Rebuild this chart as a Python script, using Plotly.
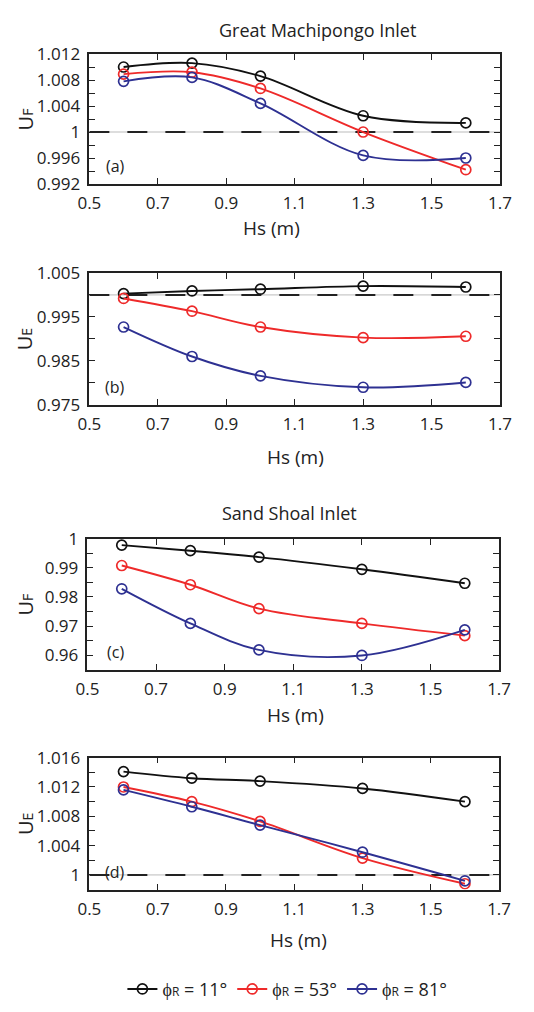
import plotly.graph_objects as go

# ---------------- data ----------------
hs = [0.6, 0.8, 1.0, 1.3, 1.6]
series_names = ["ϕ<span style='font-size:12px'>R</span> = 11°",
                "ϕ<span style='font-size:12px'>R</span> = 53°",
                "ϕ<span style='font-size:12px'>R</span> = 81°"]

# (a) Great Machipongo Inlet, UF
a_11 = [1.0100, 1.0106, 1.0086, 1.0025, 1.0014]
a_53 = [1.0089, 1.0092, 1.0067, 1.0000, 0.9942]
a_81 = [1.0078, 1.0084, 1.0044, 0.9964, 0.9960]
# (b) Great Machipongo Inlet, UE
b_11 = [1.0003, 1.0009, 1.0013, 1.0020, 1.0018]
b_53 = [0.9992, 0.9963, 0.9927, 0.9903, 0.9906]
b_81 = [0.9927, 0.9860, 0.9816, 0.9790, 0.9801]
# (c) Sand Shoal Inlet, UF
c_11 = [0.9978, 0.9959, 0.9937, 0.9895, 0.9847]
c_53 = [0.9908, 0.9842, 0.9760, 0.9709, 0.9667]
c_81 = [0.9828, 0.9709, 0.9618, 0.9599, 0.9687]
# (d) Sand Shoal Inlet, UE
d_11 = [1.0141, 1.0132, 1.0128, 1.0118, 1.0100]
d_53 = [1.0120, 1.0100, 1.0073, 1.0023, 0.9988]
d_81 = [1.0116, 1.0093, 1.0068, 1.0031, 0.9992]

x_ticks = [0.5, 0.7, 0.9, 1.1, 1.3, 1.5, 1.7]
a_yticks = [0.992, 0.996, 1.0, 1.004, 1.008, 1.012]
a_ylabels = ["0.992", "0.996", "1", "1.004", "1.008", "1.012"]
b_yticks = [0.975, 0.980, 0.985, 0.990, 0.995, 1.000, 1.005]
b_ylabels = ["0.975", "", "0.985", "", "0.995", "", "1.005"]
c_yticks = [0.96, 0.97, 0.98, 0.99, 1.0]
c_ylabels = ["0.96", "0.97", "0.98", "0.99", "1"]
d_yticks = [1.0, 1.004, 1.008, 1.012, 1.016]
d_ylabels = ["1", "1.004", "1.008", "1.012", "1.016"]

titles = ["Great Machipongo Inlet", "Sand Shoal Inlet"]
panel_labels = ["(a)", "(b)", "(c)", "(d)"]
y_titles = ["U<span style='font-size:14px'>F</span>", "U<span style='font-size:14px'>E</span>",
            "U<span style='font-size:14px'>F</span>", "U<span style='font-size:14px'>E</span>"]
x_title = "Hs (m)"

# ---------------- style ----------------
W, H = 534, 1012
FONT = "Open Sans"
colors = ["#111111", "#ee2a2a", "#2e3192"]

def px_x(p):
    return p / W

def px_y(p):
    return 1 - p / H

panels = [
    dict(data=[a_11, a_53, a_81], yr=[0.992, 1.012], tv=a_yticks, tt=a_ylabels, minor=0.002,
         x=(81, 511), y=(43, 176), dash=True),
    dict(data=[b_11, b_53, b_81], yr=[0.975, 1.005], tv=b_yticks, tt=b_ylabels, minor=None,
         x=(81, 511), y=(267, 402), dash=True),
    dict(data=[c_11, c_53, c_81], yr=[0.955, 1.0], tv=c_yticks, tt=c_ylabels, minor=0.005,
         x=(79, 510), y=(539, 673), dash=False),
    dict(data=[d_11, d_53, d_81], yr=[0.998, 1.016], tv=d_yticks, tt=d_ylabels, minor=0.002,
         x=(81, 510), y=(763, 898), dash=True),
]

fig = go.Figure()
layout = dict(
    width=W, height=H,
    margin=dict(l=0, r=0, t=0, b=0),
    paper_bgcolor="white", plot_bgcolor="white",
    font=dict(family=FONT, size=16, color="#222"),
    showlegend=True,
    legend=dict(orientation="h", x=0.54, y=px_y(1000), xanchor="center", yanchor="middle",
                font=dict(size=18, color="#222"), itemwidth=30, tracegroupgap=0,
                bgcolor="rgba(0,0,0,0)"),
)
shapes = []
annotations = []

for i, p in enumerate(panels):
    n = "" if i == 0 else str(i + 1)
    xa = "x" + n
    ya = "y" + n
    for k in range(3):
        fig.add_trace(go.Scatter(
            x=hs, y=p["data"][k], xaxis=xa, yaxis=ya, mode="lines+markers",
            name=series_names[k], showlegend=(i == 3),
            line=dict(color=colors[k], width=1.9, shape="spline", smoothing=1.0),
            marker=dict(symbol="circle-open", size=10, color=colors[k], line=dict(width=1.7)),
        ))
    axcommon = dict(showline=True, linecolor="#222", linewidth=1.5, mirror="ticks",
                    ticks="inside", ticklen=6, tickwidth=1.3, tickcolor="#222",
                    showgrid=False, zeroline=False, tickfont=dict(size=17, color="#222"))
    layout["xaxis" + n] = dict(axcommon, domain=[px_x(p["x"][0]), px_x(p["x"][1])],
                               range=[0.5, 1.7], tickvals=x_ticks,
                               ticktext=[f"{v:.1f}" for v in x_ticks],
                               anchor=ya, ticklabelstandoff=3)
    ydict = dict(axcommon, domain=[px_y(p["y"][1]), px_y(p["y"][0])],
                 range=p["yr"], tickvals=p["tv"], ticktext=p["tt"], anchor=xa,
                 ticklabelstandoff=4)
    if p["minor"]:
        ydict["minor"] = dict(dtick=p["minor"], ticks="inside", ticklen=6, tickwidth=1.3,
                              tickcolor="#222", showgrid=False)
    layout["yaxis" + n] = ydict

    if p["dash"]:
        shapes.append(dict(type="line", xref=xa, yref=ya, x0=0.5, x1=1.7, y0=1, y1=1,
                           line=dict(color="#bbbbbb", width=1), layer="below"))
        shapes.append(dict(type="line", xref=xa, yref=ya, x0=0.5, x1=1.7, y0=1, y1=1,
                           line=dict(color="#222", width=2, dash="20px,18px"), layer="below"))

    cy = (p["y"][0] + p["y"][1]) / 2
    annotations.append(dict(text=y_titles[i], x=px_x(14), y=px_y(cy), xref="paper", yref="paper",
                             showarrow=False, textangle=-90, font=dict(size=20, color="#222"),
                             xanchor="center", yanchor="middle"))
    annotations.append(dict(text=panel_labels[i], x=px_x(108), y=px_y(p["y"][1] - 18),
                             xref="paper", yref="paper", showarrow=False,
                             font=dict(size=16, color="#222"), xanchor="center", yanchor="middle"))

xt_pos = [(272, 221), (297, 455), (297, 719), (300, 950)]
for (xx, yy) in xt_pos:
    annotations.append(dict(text=x_title, x=px_x(xx), y=px_y(yy), xref="paper", yref="paper",
                             showarrow=False, font=dict(size=19, color="#222"),
                             xanchor="center", yanchor="middle"))

annotations.append(dict(text=titles[0], x=px_x(320), y=px_y(18), xref="paper", yref="paper",
                         showarrow=False, font=dict(size=18, color="#222"),
                         xanchor="center", yanchor="middle"))
annotations.append(dict(text=titles[1], x=px_x(291), y=px_y(513), xref="paper", yref="paper",
                         showarrow=False, font=dict(size=18, color="#222"),
                         xanchor="center", yanchor="middle"))

layout["shapes"] = shapes
layout["annotations"] = annotations
fig.update_layout(**layout)
fig.write_html("out.html")
